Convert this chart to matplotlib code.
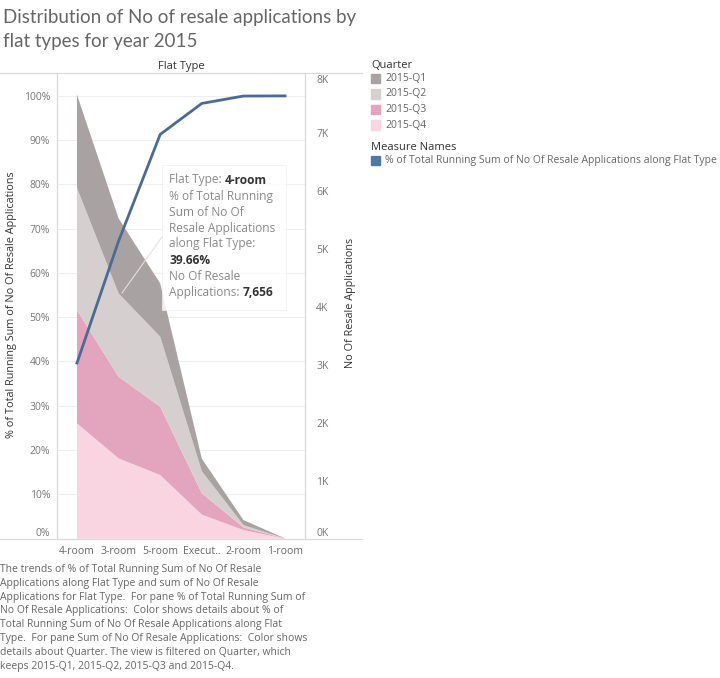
import numpy as np
import matplotlib
matplotlib.use('Agg')
import matplotlib.pyplot as plt
from matplotlib.patches import Rectangle
from matplotlib.lines import Line2D

plt.rcParams['font.family'] = ['Open Sans', 'DejaVu Sans']

# данные
flat_types = ['4-room', '3-room', '5-room', 'Execut..', '2-room', '1-room']
quarters = ['2015-Q1', '2015-Q2', '2015-Q3', '2015-Q4']
q1 = [1607, 1293, 919, 215, 86, 2]
q2 = [2108, 1437, 1207, 380, 40, 1]
q3 = [1953, 1408, 1178, 370, 46, 1]
q4 = [1988, 1385, 1098, 415, 150, 1]
running_pct = [39.66, 67.2, 91.3, 98.3, 99.97, 100.0]
pct_ticks = [0, 10, 20, 30, 40, 50, 60, 70, 80, 90, 100]
count_ticks = [0, 1000, 2000, 3000, 4000, 5000, 6000, 7000, 8000]

q_colors = ['#a8a3a2', '#d5d0cf', '#e3a5bd', '#f9d4e1']
line_color = '#4a6b96'

W, H = 720, 678


def fx(x):
    return x / W


def fy(y):
    return 1 - y / H


fig = plt.figure(figsize=(W / 100, H / 100), dpi=100)

ax = fig.add_axes([fx(57), fy(539), (305 - 57) / W, (539 - 72) / H])
ax2 = ax.twinx()

x = np.arange(len(flat_types))

# области по кварталам (Q4 снизу, Q1 сверху)
stack = np.vstack([q4, q3, q2, q1])
ax2.stackplot(x, stack, colors=q_colors[::-1], linewidth=0, zorder=2)

# линия накопленного процента (по левой оси)
ax2.plot(x, running_pct, color=line_color, linewidth=2, transform=ax.transData, zorder=3)

ax.set_xlim(-0.48, 5.48)
ax.set_ylim(-0.1, 105.4)
ax2.set_ylim(-5, 8047)

ax.set_yticks(pct_ticks)
ax.set_yticklabels([f'{t}%' for t in pct_ticks])
ax2.set_yticks(count_ticks)
ax2.set_yticklabels([f'{t // 1000}K' for t in count_ticks])
ax.set_xticks(x)
ax.set_xticklabels(flat_types)

ax.grid(True, axis='y', color='#eeeeee', linewidth=0.8)
ax.grid(False, axis='x')
ax.set_axisbelow(True)

for a in (ax, ax2):
    a.tick_params(length=0, labelsize=7.5, labelcolor='#777777')
    for s in a.spines.values():
        s.set_visible(False)
ax.tick_params(axis='y', pad=5)
ax2.tick_params(axis='y', pad=8)
ax.tick_params(axis='x', pad=5, labelcolor='#666666')

fig.canvas.draw()
ax.get_yticklabels()[0].set_va('bottom')
ax2.get_yticklabels()[0].set_va('bottom')
ax2.get_yticklabels()[-1].set_va('top')

# рамки
line_kw = dict(color='#d9d9d9', linewidth=0.9, transform=fig.transFigure)
fig.add_artist(Line2D([0, fx(362)], [fy(72.5), fy(72.5)], **line_kw))
fig.add_artist(Line2D([0, fx(362)], [fy(539), fy(539)], **line_kw))
fig.add_artist(Line2D([fx(57), fx(57)], [fy(72.5), fy(539)], **line_kw))
fig.add_artist(Line2D([fx(305), fx(305)], [fy(72.5), fy(539)], **line_kw))

# заголовки
title_kw = dict(fontsize=13.5, color='#666666', va='baseline', ha='left',
                family=['Lato', 'DejaVu Sans'])
fig.text(fx(3), fy(23.5), 'Distribution of No of resale applications by', **title_kw)
fig.text(fx(3), fy(47), 'flat types for year 2015', **title_kw)
fig.text(fx(181), fy(66), 'Flat Type', fontsize=8, color='#333333', ha='center', va='center')
fig.text(fx(12), fy(305), '% of Total Running Sum of No Of Resale Applications', rotation=90,
         fontsize=7.8, color='#333333', ha='center', va='center')
fig.text(fx(350), fy(303), 'No Of Resale Applications', rotation=90,
         fontsize=7.8, color='#333333', ha='center', va='center')

# легенда
fig.text(fx(371), fy(65), 'Quarter', fontsize=8, color='#333333', va='center')
for i, (q, c) in enumerate(zip(quarters, q_colors)):
    yc = 78.5 + i * 15.5
    fig.add_artist(Rectangle((fx(371), fy(yc + 4.5)), 9 / W, 9 / H, color=c,
                             transform=fig.transFigure))
    fig.text(fx(385), fy(yc), q, fontsize=7.5, color='#666666', va='center')
fig.text(fx(371), fy(147), 'Measure Names', fontsize=8, color='#333333', va='center')
fig.add_artist(Rectangle((fx(371), fy(164.5)), 9 / W, 9 / H, color='#4e79a7',
                         transform=fig.transFigure))
fig.text(fx(385), fy(160), '% of Total Running Sum of No Of Resale Applications along Flat Type',
         fontsize=7.5, color='#666666', va='center')

# подсказка (tooltip)
fig.add_artist(Line2D([fx(122), fx(162)], [fy(293), fy(237)], color='#e4e0df', linewidth=0.8,
                      transform=fig.transFigure))
fig.add_artist(Rectangle((fx(162), fy(310)), (286 - 162) / W, (310 - 165) / H,
                         facecolor='white', alpha=0.82, edgecolor='#eeeeee', linewidth=0.6,
                         transform=fig.transFigure))
total_4room = q1[0] + q2[0] + q3[0] + q4[0]
tip_lines = [
    [('Flat Type: ', False), (flat_types[0], True)],
    [('% of Total Running', False)],
    [('Sum of No Of', False)],
    [('Resale Applications', False)],
    [('along Flat Type:', False)],
    [(f'{running_pct[0]:.2f}%', True)],
    [('No Of Resale', False)],
    [('Applications: ', False), (f'{total_4room:,}', True)],
]
renderer = fig.canvas.get_renderer()
for i, parts in enumerate(tip_lines):
    xpos = fx(169)
    yc = fy(180 + i * 16)
    for txt, bold in parts:
        t = fig.text(xpos, yc, txt, fontsize=8.6, va='center',
                     color='#333333' if bold else '#8a8a8a',
                     fontweight='bold' if bold else 'normal')
        bb = t.get_window_extent(renderer)
        xpos += bb.width / W

# описание
desc = ("The trends of % of Total Running Sum of No Of Resale\n"
        "Applications along Flat Type and sum of No Of Resale\n"
        "Applications for Flat Type.  For pane % of Total Running Sum of\n"
        "No Of Resale Applications:  Color shows details about % of\n"
        "Total Running Sum of No Of Resale Applications along Flat\n"
        "Type.  For pane Sum of No Of Resale Applications:  Color shows\n"
        "details about Quarter. The view is filtered on Quarter, which\n"
        "keeps 2015-Q1, 2015-Q2, 2015-Q3 and 2015-Q4.")
fig.text(fx(0), fy(564), desc, fontsize=7.5, color='#666666', va='top', ha='left', linespacing=1.35)

fig.savefig('out.png', dpi=100)
